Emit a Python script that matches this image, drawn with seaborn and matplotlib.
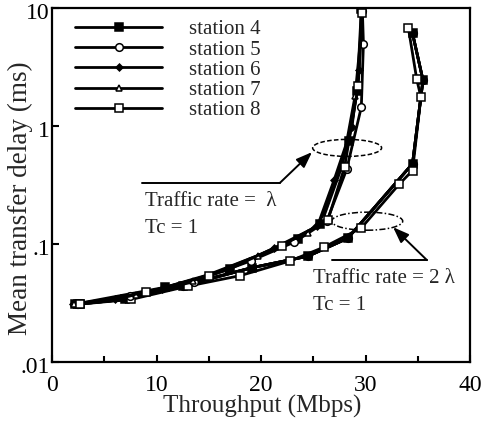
import matplotlib
matplotlib.use("Agg")
import matplotlib.pyplot as plt
from matplotlib.patches import Ellipse
from matplotlib.ticker import FixedLocator, FixedFormatter, MultipleLocator
from matplotlib.transforms import ScaledTranslation
import seaborn as sns
import pandas as pd

sns.set_theme(style="ticks")
plt.rcParams["font.family"] = ["Liberation Serif", "DejaVu Serif"]

stations = ["station 4", "station 5", "station 6", "station 7", "station 8"]
markers = ["s", "o", "D", "^", "s"]
fills = ["black", "white", "black", "white", "white"]
msizes = [5.5, 5.5, 3.5, 4.5, 5.5]

# Traffic rate = lambda, Tc = 1
lam_x = {
    "station 4": [2.2, 10.8, 17.0, 23.5, 25.6, 28.4, 29.2, 29.6],
    "station 5": [2.4, 7.5, 13.6, 19.0, 23.2, 26.3, 28.2, 29.6, 29.8, 29.7],
    "station 6": [2.0, 6.0, 10.5, 16.7, 21.2, 25.4, 27.0, 28.7, 29.4, 29.6],
    "station 7": [2.1, 8.0, 13.5, 19.7, 24.5, 26.0, 27.8, 29.0, 29.8],
    "station 8": [2.7, 9.0, 15.0, 22.0, 26.4, 28.0, 29.3, 29.7],
}
lam_y = {
    "station 4": [0.031, 0.043, 0.062, 0.110, 0.148, 0.75, 2.0, 9.8],
    "station 5": [0.031, 0.036, 0.048, 0.072, 0.104, 0.157, 0.43, 1.45, 5.0, 9.5],
    "station 6": [0.031, 0.034, 0.042, 0.060, 0.092, 0.142, 0.35, 0.98, 3.0, 9.9],
    "station 7": [0.031, 0.037, 0.049, 0.080, 0.125, 0.17, 0.47, 1.8, 9.7],
    "station 8": [0.031, 0.039, 0.054, 0.097, 0.16, 0.45, 2.2, 9.0],
}

# Traffic rate = 2 lambda, Tc = 1
lam2_x = {
    "station 5": [2.5, 12.5, 19.1, 24.5, 28.3, 34.5, 35.5, 34.5],
    "station 6": [2.5, 7.0, 12.5, 19.1, 24.5, 28.3, 34.5, 35.5, 34.5],
    "station 7": [2.5, 7.0, 19.1, 24.5, 28.3, 34.5, 35.5, 34.5],
    "station 4": [2.5, 7.0, 12.5, 19.1, 24.5, 28.3, 34.5, 35.5, 34.5],
    "station 8": [2.7, 7.6, 13.0, 18.0, 22.8, 26.0, 29.6, 33.2, 34.5, 35.3, 34.9, 34.1],
}
lam2_y = {
    "station 5": [0.031, 0.044, 0.063, 0.079, 0.112, 0.48, 2.45, 6.1],
    "station 6": [0.031, 0.034, 0.044, 0.063, 0.079, 0.112, 0.48, 2.45, 6.1],
    "station 7": [0.031, 0.034, 0.063, 0.079, 0.112, 0.48, 2.45, 6.1],
    "station 4": [0.031, 0.034, 0.044, 0.063, 0.079, 0.112, 0.48, 2.45, 6.1],
    "station 8": [0.031, 0.034, 0.044, 0.054, 0.072, 0.094, 0.137, 0.32, 0.42, 1.76, 2.5, 6.8],
}

fig = plt.figure(figsize=(4.92, 4.24), dpi=100)
ax = fig.add_axes([0.1057, 0.146, 0.8496, 0.835])


def draw(xs, ys, name, label):
    i = stations.index(name)
    df = pd.DataFrame({"x": xs, "y": ys})
    sns.lineplot(data=df, x="x", y="y", sort=False, estimator=None, ax=ax,
                 color="black", linewidth=2.0, marker=markers[i],
                 markersize=msizes[i], markerfacecolor=fills[i],
                 markeredgecolor="black", markeredgewidth=1.1,
                 label=label, legend=False)


for name in ["station 5", "station 6", "station 7", "station 4", "station 8"]:
    draw(lam2_x[name], lam2_y[name], name, None)
for name in stations:
    draw(lam_x[name], lam_y[name], name, name)

ax.set_yscale("log")
ax.set_xlim(0, 40)
ax.set_ylim(0.01, 10)

ax.yaxis.set_major_locator(FixedLocator([0.01, 0.1, 1, 10]))
ax.yaxis.set_major_formatter(FixedFormatter([".01", ".1", "1", "10"]))
ax.yaxis.set_minor_locator(FixedLocator([]))
ax.xaxis.set_major_locator(MultipleLocator(10))
ax.xaxis.set_minor_locator(MultipleLocator(5))
ax.tick_params(axis="both", which="both", direction="in", labelsize=17,
               width=1.5, colors="black")
ax.tick_params(axis="both", which="major", length=5)
ax.tick_params(axis="both", which="minor", length=4)
ax.tick_params(axis="x", pad=9)
ax.tick_params(axis="y", pad=1.5)
shift = ScaledTranslation(0, -3 / 100, fig.dpi_scale_trans)
for lbl in ax.get_yticklabels():
    lbl.set_transform(lbl.get_transform() + shift)
for sp in ax.spines.values():
    sp.set_linewidth(1.6)
    sp.set_color("black")

ax.set_xlabel("Throughput (Mbps)", fontsize=18, va="top")
ax.xaxis.set_label_coords(0.502, -0.094)
ax.set_ylabel("Mean transfer delay (ms)", fontsize=19.5)
ax.yaxis.set_label_coords(-0.045, 0.463)

handles, labels = ax.get_legend_handles_labels()
leg = ax.legend(handles, labels, loc="upper left", bbox_to_anchor=(0.055, 0.967),
                frameon=False, fontsize=15, handlelength=4.2, handletextpad=1.25,
                labelspacing=0.03, borderpad=0, borderaxespad=0)

# dashed ellipses marking the two groups of curves
ax.add_patch(Ellipse((0.706, 0.605), 0.165, 0.048, transform=ax.transAxes,
                     fill=False, ls=(0, (3, 1.5)), lw=1.1, color="black"))
ax.add_patch(Ellipse((0.754, 0.398), 0.17, 0.051, transform=ax.transAxes,
                     fill=False, ls=(0, (4, 1.5, 1, 1.5)), lw=1.1, color="black"))

# leader lines with arrows
ax.plot([0.215, 0.545], [0.506, 0.506], transform=ax.transAxes, color="black", lw=1.4)
ax.annotate("", xy=(0.622, 0.593), xytext=(0.545, 0.506), xycoords="axes fraction",
            arrowprops=dict(arrowstyle="-|>,head_length=0.8,head_width=0.3",
                            color="black", lw=1.4, shrinkA=0, shrinkB=0))
ax.plot([0.670, 0.897], [0.288, 0.288], transform=ax.transAxes, color="black", lw=1.4)
ax.annotate("", xy=(0.816, 0.381), xytext=(0.897, 0.288), xycoords="axes fraction",
            arrowprops=dict(arrowstyle="-|>,head_length=0.8,head_width=0.3",
                            color="black", lw=1.4, shrinkA=0, shrinkB=0))

ax.text(0.2225, 0.455, "Traffic rate =  λ", transform=ax.transAxes, fontsize=15,
        va="center", ha="left")
ax.text(0.2225, 0.378, "Tc = 1", transform=ax.transAxes, fontsize=15,
        va="center", ha="left")
ax.text(0.624, 0.237, "Traffic rate = 2 λ", transform=ax.transAxes, fontsize=15,
        va="center", ha="left")
ax.text(0.624, 0.161, "Tc = 1", transform=ax.transAxes, fontsize=15,
        va="center", ha="left")

fig.savefig("out.png", dpi=100, facecolor="white")
